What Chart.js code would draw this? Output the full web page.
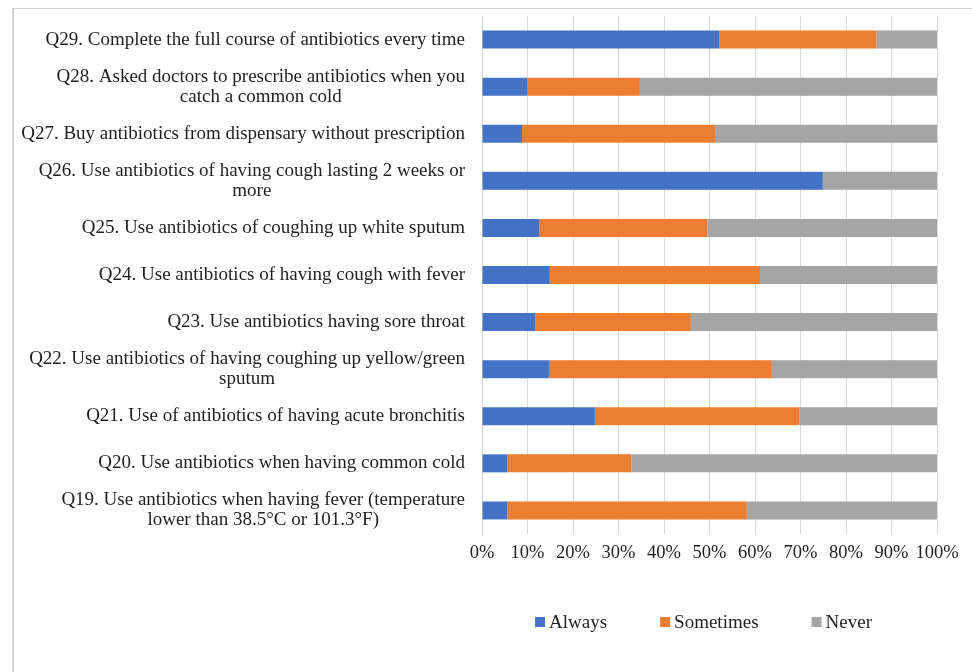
<!DOCTYPE html>
<html>
<head>
<meta charset="utf-8">
<style>
  html, body { margin: 0; padding: 0; background: #ffffff; }
  #wrap { position: relative; width: 972px; height: 672px; }
</style>
<script src="https://cdn.jsdelivr.net/npm/chart.js@4"></script>
</head>
<body>
<div id="wrap"><canvas id="chart" width="972" height="672"></canvas></div>
<script>
// Survey items, top to bottom (multi-line items are given as line arrays)
const questions = [
  ['Q29. Complete the full course of antibiotics every time'],
  ['Q28. Asked doctors to prescribe antibiotics when you', 'catch a common cold'],
  ['Q27. Buy antibiotics from dispensary without prescription'],
  ['Q26. Use antibiotics of having cough lasting 2 weeks or', 'more'],
  ['Q25. Use antibiotics of coughing up white sputum'],
  ['Q24. Use antibiotics of having cough with fever'],
  ['Q23. Use antibiotics having sore throat'],
  ['Q22. Use antibiotics of having coughing up yellow/green', 'sputum'],
  ['Q21. Use of antibiotics of having acute bronchitis'],
  ['Q20. Use antibiotics when having common cold'],
  ['Q19. Use antibiotics when having fever (temperature', 'lower than 38.5°C or 101.3°F)']
];

// Share of respondents (%) per answer
const always    = [52.1,  9.9,  8.8, 74.9, 12.6, 14.9, 11.7, 14.7, 24.8,  5.6,  5.6];
const sometimes = [34.6, 24.8, 42.4,  0.0, 36.9, 46.2, 34.2, 49.0, 44.9, 27.2, 52.6];
const never     = [13.3, 65.3, 48.8, 25.1, 50.5, 38.9, 54.1, 36.3, 30.3, 67.2, 41.8];

const seriesNames = ['Always', 'Sometimes', 'Never'];
const xTicks = [0, 10, 20, 30, 40, 50, 60, 70, 80, 90, 100];

const SERIF = '"Liberation Serif", "Times New Roman", serif';
const TEXT = '#1f1f1f';
const GRID = '#d9d9d9';

// Light frame around the figure
const framePlugin = {
  id: 'frame',
  beforeDraw(chart) {
    const ctx = chart.ctx;
    ctx.save();
    ctx.fillStyle = '#d4d4d4';
    ctx.fillRect(12, 8, 2, chart.height - 8);
    ctx.fillRect(12, 8, chart.width - 12, 1);
    ctx.restore();
  }
};

// Category labels: block right-aligned to the axis, lines centred within the block
const categoryLabels = {
  id: 'categoryLabels',
  afterDraw(chart) {
    const ctx = chart.ctx;
    const yScale = chart.scales.y;
    const rightEdge = chart.chartArea.left - 17;
    const lineH = 20;
    ctx.save();
    ctx.font = '19px ' + SERIF;
    ctx.fillStyle = TEXT;
    ctx.textAlign = 'center';
    ctx.textBaseline = 'middle';
    questions.forEach((lines, i) => {
      const yc = yScale.getPixelForTick(i);
      const maxW = Math.max(...lines.map(l => ctx.measureText(l).width));
      const cx = rightEdge - maxW / 2;
      const y0 = yc - (lines.length - 1) * lineH / 2;
      lines.forEach((l, k) => ctx.fillText(l, cx, y0 + k * lineH));
    });
    ctx.restore();
  }
};

// Legend row under the axis: small square swatch followed by the series name
const legendRow = {
  id: 'legendRow',
  afterDraw(chart) {
    const ctx = chart.ctx;
    const box = 10, gapText = 4, gapItem = 53;
    const cy = chart.chartArea.bottom + 88;
    ctx.save();
    ctx.font = '19px ' + SERIF;
    ctx.textBaseline = 'middle';
    ctx.textAlign = 'left';
    const items = chart.data.datasets.map(ds => ({
      text: ds.label, color: ds.backgroundColor, w: ctx.measureText(ds.label).width
    }));
    const total = items.reduce((s, it) => s + box + gapText + it.w, 0) + gapItem * (items.length - 1);
    const area = chart.chartArea;
    let x = (area.left + area.right) / 2 - 6 - total / 2;
    items.forEach(it => {
      ctx.fillStyle = it.color;
      ctx.fillRect(x, cy - box / 2, box, box);
      ctx.fillStyle = TEXT;
      ctx.fillText(it.text, x + box + gapText, cy + 1);
      x += box + gapText + it.w + gapItem;
    });
    ctx.restore();
  }
};

const colors = ['#4472c4', '#ed7d31', '#a5a5a5'];
const values = [always, sometimes, never];

new Chart(document.getElementById('chart'), {
  type: 'bar',
  data: {
    labels: questions.map(q => q.join(' ')),
    datasets: seriesNames.map((name, k) => ({
      label: name,
      data: values[k],
      backgroundColor: colors[k],
      borderWidth: 0,
      categoryPercentage: 1,
      barPercentage: 0.382
    }))
  },
  options: {
    indexAxis: 'y',
    responsive: false,
    animation: false,
    layout: { padding: { left: 0, right: 35, top: 16, bottom: 98 } },
    scales: {
      x: {
        stacked: true,
        min: 0,
        max: 100,
        afterBuildTicks(scale) { scale.ticks = xTicks.map(v => ({ value: v })); },
        afterFit(scale) { scale.height = 40; },
        grid: { color: GRID, lineWidth: 1, drawTicks: false },
        border: { display: false },
        ticks: {
          autoSkip: false,
          maxRotation: 0,
          padding: 8,
          color: TEXT,
          font: { family: SERIF, size: 18.5 },
          callback: v => v + '%'
        }
      },
      y: {
        stacked: true,
        afterFit(scale) { scale.width = 482; },
        grid: { display: false },
        border: { display: true, color: GRID },
        ticks: { display: false }
      }
    },
    plugins: {
      legend: { display: false },
      tooltip: { enabled: false }
    }
  },
  plugins: [framePlugin, categoryLabels, legendRow]
});
</script>
</body>
</html>
